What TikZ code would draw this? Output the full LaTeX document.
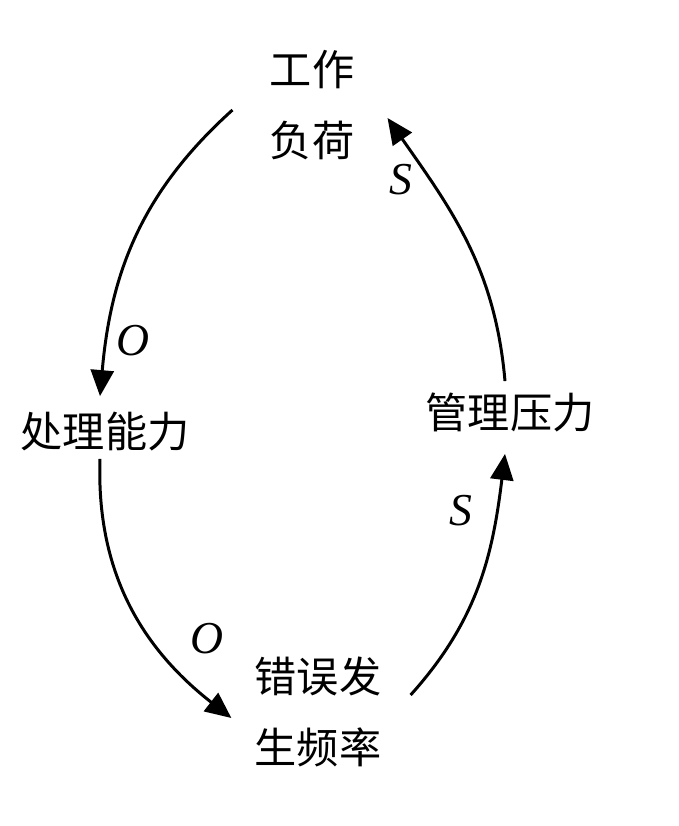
\documentclass[tikz,border=0pt]{standalone}
\usepackage{fontspec}
\newfontfamily\cjk{Noto Sans CJK SC}
\setmainfont{Liberation Serif}
\usetikzlibrary{arrows.meta, positioning}
\tikzset{
  term/.style={inner sep=0pt, align=center, font=\cjk\fontsize{24}{40}\selectfont},
  lbl/.style={inner sep=2pt, font=\itshape\fontsize{26}{30}\selectfont},
  arrow/.style={-{Triangle[length=0.52cm, width=0.46cm]}, line width=1.7pt},
}
\begin{document}
\begin{tikzpicture}
\useasboundingbox (0,0) rectangle (13.56,-16.52);
\node[term] (work) at (6.24,-2.1) {工作\\负荷};
\node[term] (capab) at (2.1,-8.64) {处理能力};
\node[term] (press) at (10.2,-8.24) {管理压力};
\node[term] (error) at (6.36,-14.24) {错误发\\生频率};
\draw[arrow] ([shift={(-0.74,-0.1)}]work.west) to[out=222, in=85]
  node[lbl, pos=0.84, right=0.1cm] (o1) {O} ([shift={(-0.1,0.32)}]capab.north);
\draw[arrow] ([shift={(-0.1,-0.14)}]capab.south) to[out=268, in=142]
  node[lbl, pos=0.74, above right=0.05cm and 0.3cm] (o2) {O} ([shift={(-0.46,-0.12)}]error.west);
\draw[arrow] ([shift={(0.58,0.34)}]error.east) to[out=48, in=263]
  node[lbl, pos=0.8, left=0.4cm] (s1) {S} ([shift={(-0.1,-0.44)}]press.south);
\draw[arrow] ([shift={(-0.1,0.22)}]press.north) to[out=95, in=305]
  node[lbl, pos=0.76, left=0.25cm] (s2) {S} ([shift={(0.66,-0.26)}]work.east);
\end{tikzpicture}
\end{document}
